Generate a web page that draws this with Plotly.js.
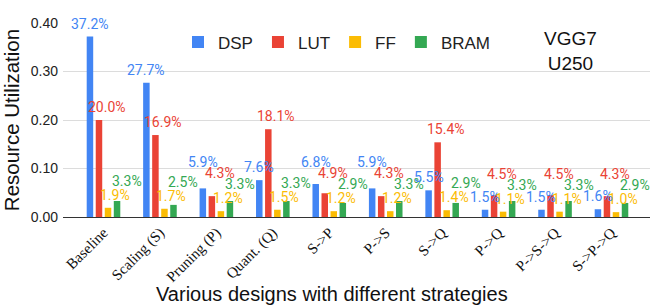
<!DOCTYPE html>
<html>
<head>
<meta charset="utf-8">
<script src="https://cdn.plot.ly/plotly-3.0.1.min.js"></script>
<style>html,body{margin:0;padding:0;background:#fff;}#chart{width:664px;height:307px;}</style>
</head>
<body>
<div id="chart"></div>
<script>
// ---- data ----
var categories = ["Baseline", "Scaling (S)", "Pruning (P)", "Quant. (Q)", "S->P", "P->S", "S->Q", "P->Q", "P->S->Q", "S->P->Q"];
var seriesNames = ["DSP", "LUT", "FF", "BRAM"];
var dsp  = [0.372, 0.277, 0.059, 0.076, 0.068, 0.059, 0.055, 0.015, 0.015, 0.016];
var lut  = [0.200, 0.169, 0.043, 0.181, 0.049, 0.043, 0.154, 0.045, 0.045, 0.043];
var ff   = [0.019, 0.017, 0.012, 0.015, 0.012, 0.012, 0.014, 0.011, 0.011, 0.010];
var bram = [0.033, 0.025, 0.033, 0.033, 0.029, 0.033, 0.029, 0.033, 0.033, 0.029];
var yTickVals = [0, 0.1, 0.2, 0.3, 0.4];
var yTickText = ["0.00", "0.10", "0.20", "0.30", "0.40"];

// ---- styling / layout constants ----
var colors = ["#4285F4", "#EA4335", "#FBBC04", "#34A853"];
var labelNudge = [0, 8, 7, 10];   // px sideways shift of each series' value labels
var W = 664, H = 307;
var M = {l: 63, r: 14, t: 23, b: 90};
var xRange = [-0.7175, 9.6825];
var yRange = [0, 0.4];
var bargap = 0.36, bargroupgap = 0.28;
var sans = "Liberation Sans, Arial, sans-serif";
var labelFont = "Roboto, Arial, sans-serif";

var values = [dsp, lut, ff, bram];
var traces = values.map(function (v, i) {
  return {
    type: "bar", name: seriesNames[i], x: categories, y: v,
    marker: {color: colors[i]}, hoverinfo: "none"
  };
});

// ---- data labels with simple collision avoidance (like the source chart) ----
var plotW = W - M.l - M.r, plotH = H - M.t - M.b;
var catW = plotW / (xRange[1] - xRange[0]);
var pxPerUnit = plotH / (yRange[1] - yRange[0]);
var slot = catW * (1 - bargap) / values.length;
var LAB_OFF = 13;
var annotations = [];
categories.forEach(function (cat, ci) {
  var labs = values.map(function (v, si) {
    var d = (si - (values.length - 1) / 2) * slot + labelNudge[si];
    return {si: si, v: v[ci], lx: d, h: v[ci] * pxPerUnit + LAB_OFF};
  });
  var order = labs.slice().sort(function (a, b) { return a.v - b.v; });
  var placed = [];
  order.forEach(function (L) {
    var moved = true, guard = 0;
    while (moved && guard++ < 20) {
      moved = false;
      for (var k = 0; k < placed.length; k++) {
        var P = placed[k];
        var dxl = Math.abs(P.lx - L.lx);
        var need = dxl <= 14 ? 14 : (dxl < 24 ? 11 : 0);
        if (need && Math.abs(P.h - L.h) < need) {
          L.h = P.h + need; moved = true;
        }
      }
    }
    placed.push(L);
    annotations.push({
      x: cat, xref: "x", y: L.h / pxPerUnit, yref: "y", xshift: L.lx,
      text: (L.v * 100).toFixed(1) + "%", showarrow: false,
      xanchor: "center", yanchor: "middle",
      font: {family: labelFont, size: 14, color: colors[L.si]}
    });
  });
});

annotations.push({
  xref: "paper", yref: "paper", x: (570 - M.l) / plotW, y: (H - M.b - 50.5) / plotH,
  text: "VGG7<br>U250", showarrow: false, xanchor: "center", yanchor: "middle",
  font: {family: sans, size: 19, color: "#111"}
});
annotations.push({
  xref: "paper", yref: "paper", x: (332 - M.l) / plotW, y: (H - M.b - 294) / plotH,
  text: "Various designs with different strategies", showarrow: false,
  xanchor: "center", yanchor: "middle",
  font: {family: sans, size: 20, color: "#111"}
});

var layout = {
  width: W, height: H,
  margin: M,
  paper_bgcolor: "#fff", plot_bgcolor: "#fff",
  barmode: "group", bargap: bargap, bargroupgap: bargroupgap,
  showlegend: true,
  legend: {
    orientation: "h", x: (178 - M.l) / plotW, xanchor: "left",
    y: (H - M.b - 42.5) / plotH, yanchor: "middle",
    font: {family: sans, size: 17, color: "#222"},
    bgcolor: "rgba(0,0,0,0)", traceorder: "normal"
  },
  xaxis: {
    range: xRange, type: "category", tickangle: -45,
    tickfont: {family: "Liberation Serif, Times New Roman, serif", size: 15, color: "#111"},
    showgrid: false, zeroline: false, showline: true, linecolor: "#333", linewidth: 1,
    ticks: "", fixedrange: true
  },
  yaxis: {
    range: yRange, tickvals: yTickVals, ticktext: yTickText,
    tickfont: {family: sans, size: 14, color: "#222"},
    gridcolor: "#dcdcdc", gridwidth: 1, zeroline: false, showline: false,
    ticks: "", ticklabelstandoff: 4,
    title: {text: "Resource Utilization", font: {family: sans, size: 20.5, color: "#111"}, standoff: 10},
    fixedrange: true
  },
  annotations: annotations
};

Plotly.newPlot("chart", traces, layout, {displayModeBar: false, staticPlot: true});
</script>
</body>
</html>
